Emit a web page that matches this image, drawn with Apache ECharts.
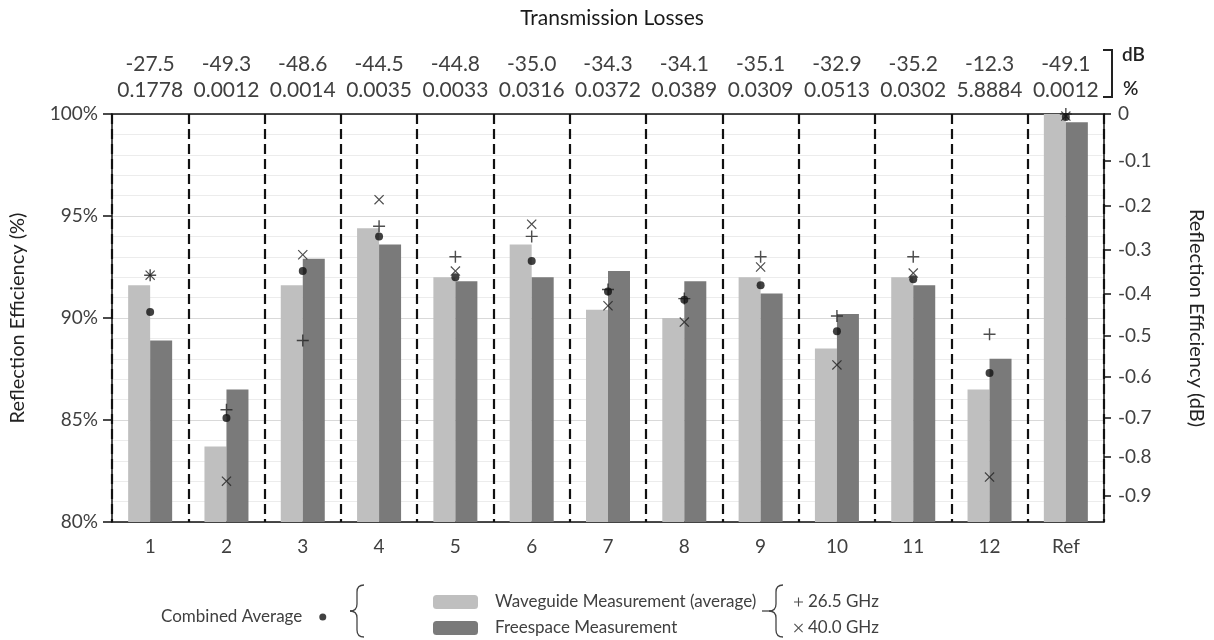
<!DOCTYPE html>
<html>
<head>
<meta charset="utf-8">
<script src="https://cdn.jsdelivr.net/npm/echarts@6/dist/echarts.min.js"></script>
<style>
html,body{margin:0;padding:0;background:#fff;}
#chart{width:1214px;height:640px;}
</style>
</head>
<body>
<div id="chart"></div>
<script>
// ---- data ----
var categories = ['1','2','3','4','5','6','7','8','9','10','11','12','Ref'];
var transmissionDb = ['-27.5','-49.3','-48.6','-44.5','-44.8','-35.0','-34.3','-34.1','-35.1','-32.9','-35.2','-12.3','-49.1'];
var transmissionPct = ['0.1778','0.0012','0.0014','0.0035','0.0033','0.0316','0.0372','0.0389','0.0309','0.0513','0.0302','5.8884','0.0012'];
var waveguide = [91.6, 83.7, 91.6, 94.4, 92.0, 93.6, 90.4, 90.0, 92.0, 88.5, 92.0, 86.5, 100.0];
var freespace = [88.9, 86.5, 92.9, 93.6, 91.8, 92.0, 92.3, 91.8, 91.2, 90.2, 91.6, 88.0, 99.6];
var wg265 = [92.1, 85.5, 88.9, 94.5, 93.0, 94.0, 91.4, 90.95, 93.0, 90.1, 93.0, 89.2, 100.0];
var wg400 = [92.1, 82.0, 93.1, 95.8, 92.3, 94.6, 90.6, 89.8, 92.5, 87.7, 92.2, 82.2, 99.9];
var combinedAvg = [90.3, 85.1, 92.3, 94.0, 92.0, 92.8, 91.3, 90.9, 91.6, 89.35, 91.9, 87.3, 99.85];
var dbTicks = [0, -0.1, -0.2, -0.3, -0.4, -0.5, -0.6, -0.7, -0.8, -0.9];

// dB tick positions on the percent scale
var dbTickPositions = dbTicks.map(function (d) { return 100 * Math.pow(10, d / 10); });

var FONT = 'Lato';
var TXT = '#404040';
var PLUS = 'path://M8.8,0h2.4v8.8h8.8v2.4h-8.8v8.8h-2.4v-8.8h-8.8v-2.4h8.8z';
var CROSS = 'path://M1.7,0L10,8.3L18.3,0L20,1.7L11.7,10L20,18.3L18.3,20L10,11.7L1.7,20L0,18.3L8.3,10L0,1.7Z';

function brace(xr, xm, xt, y0, y1) {
  // opening curly brace: right edge xr, spine xm, tip xt, from y0 to y1
  var ym = (y0 + y1) / 2, r = 7;
  var st = {stroke: '#444', lineWidth: 1.3, fill: null};
  return [
    {type: 'bezierCurve', silent: true, shape: {x1: xr, y1: y0, cpx1: xm, cpy1: y0, x2: xm, y2: y0 + r}, style: st},
    {type: 'line', silent: true, shape: {x1: xm, y1: y0 + r, x2: xm, y2: ym - r}, style: st},
    {type: 'bezierCurve', silent: true, shape: {x1: xm, y1: ym - r, cpx1: xm, cpy1: ym, x2: xt, y2: ym}, style: st},
    {type: 'bezierCurve', silent: true, shape: {x1: xt, y1: ym, cpx1: xm, cpy1: ym, x2: xm, y2: ym + r}, style: st},
    {type: 'line', silent: true, shape: {x1: xm, y1: ym + r, x2: xm, y2: y1 - r}, style: st},
    {type: 'bezierCurve', silent: true, shape: {x1: xm, y1: y1 - r, cpx1: xm, cpy1: y1, x2: xr, y2: y1}, style: st}
  ];
}

var chart = echarts.init(document.getElementById('chart'), null, {renderer: 'canvas'});

var graphics = [
  {
    type: 'polyline', silent: true,
    shape: {points: [[1103, 50], [1112, 50], [1112, 97], [1103, 97]]},
    style: {stroke: '#222', lineWidth: 2, fill: null}
  },
  {
    type: 'text', silent: true, x: 1122, y: 45,
    style: {text: 'dB', font: '600 19px Lato', fill: '#222'}
  },
  {
    type: 'text', silent: true, x: 1123, y: 79,
    style: {text: '%', font: '600 19px Lato', fill: '#222'}
  },
  {
    type: 'line', silent: true, shape: {x1: 762, y1: 611, x2: 769, y2: 611},
    style: {stroke: '#444', lineWidth: 1.3}
  }
].concat(brace(364, 357, 350, 585, 637)).concat(brace(783, 776, 769, 585, 637));

var option = {
  animation: false,
  backgroundColor: '#fff',
  textStyle: {fontFamily: FONT},
  title: {
    text: 'Transmission Losses',
    left: 607, top: 3, textAlign: 'center',
    textStyle: {fontFamily: FONT, fontSize: 21, fontWeight: 'normal', color: '#1a1a1a'}
  },
  grid: {left: 112, right: 101, top: 114, bottom: 118},
  legend: [
    {
      data: ['Waveguide Measurement (average)', 'Freespace Measurement'],
      orient: 'vertical', left: 428, top: 586, height: 60, width: 340,
      itemWidth: 45, itemHeight: 14, itemGap: 4,
      textStyle: {fontFamily: FONT, fontSize: 17, color: TXT, lineHeight: 22, padding: [0, 0, 0, 12]},
      selectedMode: false
    },
    {
      data: ['26.5 GHz', '40.0 GHz'],
      orient: 'vertical', left: 789, top: 586, height: 60, width: 140,
      itemWidth: 9, itemHeight: 9, itemGap: 4,
      textStyle: {fontFamily: FONT, fontSize: 17, color: TXT, lineHeight: 22},
      selectedMode: false
    },
    {
      data: ['Combined Average'],
      orient: 'horizontal', left: 156, top: 601, height: 30, width: 190,
      align: 'right',
      itemWidth: 7, itemHeight: 7,
      textStyle: {fontFamily: FONT, fontSize: 17, color: TXT, lineHeight: 22, padding: [0, 12, 0, 0]},
      selectedMode: false
    }
  ],
  xAxis: [
    {
      type: 'category', data: categories, position: 'bottom',
      axisLine: {lineStyle: {color: '#111', width: 1.5}},
      axisTick: {alignWithLabel: true, length: 7, lineStyle: {color: '#111', width: 1.5}},
      axisLabel: {fontFamily: FONT, fontSize: 19, color: TXT, margin: 15, interval: 0},
      splitLine: {show: true, interval: 0, lineStyle: {color: '#111', width: 2.2, type: [10, 5]}}
    },
    {
      type: 'category', data: categories, position: 'top',
      axisLine: {lineStyle: {color: '#111', width: 1.5}},
      axisTick: {alignWithLabel: true, length: 8, lineStyle: {color: '#111', width: 1.5}},
      axisLabel: {
        interval: 0, margin: 11,
        fontFamily: FONT, fontSize: 21, color: TXT, lineHeight: 26,
        formatter: function (v, i) { return transmissionDb[i] + '\n' + transmissionPct[i]; }
      },
      splitLine: {show: false}
    }
  ],
  yAxis: [
    {
      type: 'value', min: 80, max: 100, interval: 5, position: 'left',
      name: 'Reflection Efficiency (%)', nameLocation: 'middle', nameGap: 84,
      nameTextStyle: {fontFamily: FONT, fontSize: 20, color: '#222'},
      axisLine: {show: true, lineStyle: {color: '#111', width: 1.5}},
      axisTick: {show: true, length: 9, lineStyle: {color: '#111', width: 1.5}},
      axisLabel: {fontFamily: FONT, fontSize: 19, color: TXT, margin: 14, formatter: '{value}%'},
      splitLine: {show: true, lineStyle: {color: '#d9d9d9', width: 1}},
      minorTick: {show: false, splitNumber: 5},
      minorSplitLine: {show: true, lineStyle: {color: '#ececec', width: 1}}
    },
    {
      type: 'value', min: 80, max: 100, position: 'right',
      name: 'Reflection Efficiency (dB)', nameLocation: 'middle', nameGap: 82, nameRotate: -90,
      nameTextStyle: {fontFamily: FONT, fontSize: 20, color: '#222'},
      axisLine: {show: true, lineStyle: {color: '#111', width: 1.5}},
      axisTick: {show: true, length: 7, customValues: dbTickPositions, lineStyle: {color: '#111', width: 1.5}},
      axisLabel: {
        fontFamily: FONT, fontSize: 19, color: TXT, margin: 14,
        customValues: dbTickPositions,
        formatter: function (v) {
          var d = Math.round(10 * Math.log10(v / 100) * 10) / 10;
          return d === 0 ? '0' : d.toFixed(1);
        }
      },
      splitLine: {show: false}
    }
  ],
  series: [
    {
      name: 'Waveguide Measurement (average)', type: 'bar', data: waveguide,
      barWidth: 22, barGap: '0%', itemStyle: {color: '#bfbfbf'}, z: 2
    },
    {
      name: 'Freespace Measurement', type: 'bar', data: freespace,
      barWidth: 22, barGap: '0%', itemStyle: {color: '#7a7a7a'}, z: 2
    },
    {
      name: '26.5 GHz', type: 'scatter', data: wg265, symbol: PLUS, symbolSize: 12,
      itemStyle: {color: '#222'}, z: 5, clip: false
    },
    {
      name: '40.0 GHz', type: 'scatter', data: wg400, symbol: CROSS, symbolSize: 10,
      itemStyle: {color: '#222'}, z: 5, clip: false
    },
    {
      name: 'Combined Average', type: 'scatter', data: combinedAvg, symbol: 'circle', symbolSize: 8,
      itemStyle: {color: '#111'}, z: 6, clip: false
    }
  ],
  graphic: graphics
};

chart.setOption(option);
</script>
</body>
</html>
